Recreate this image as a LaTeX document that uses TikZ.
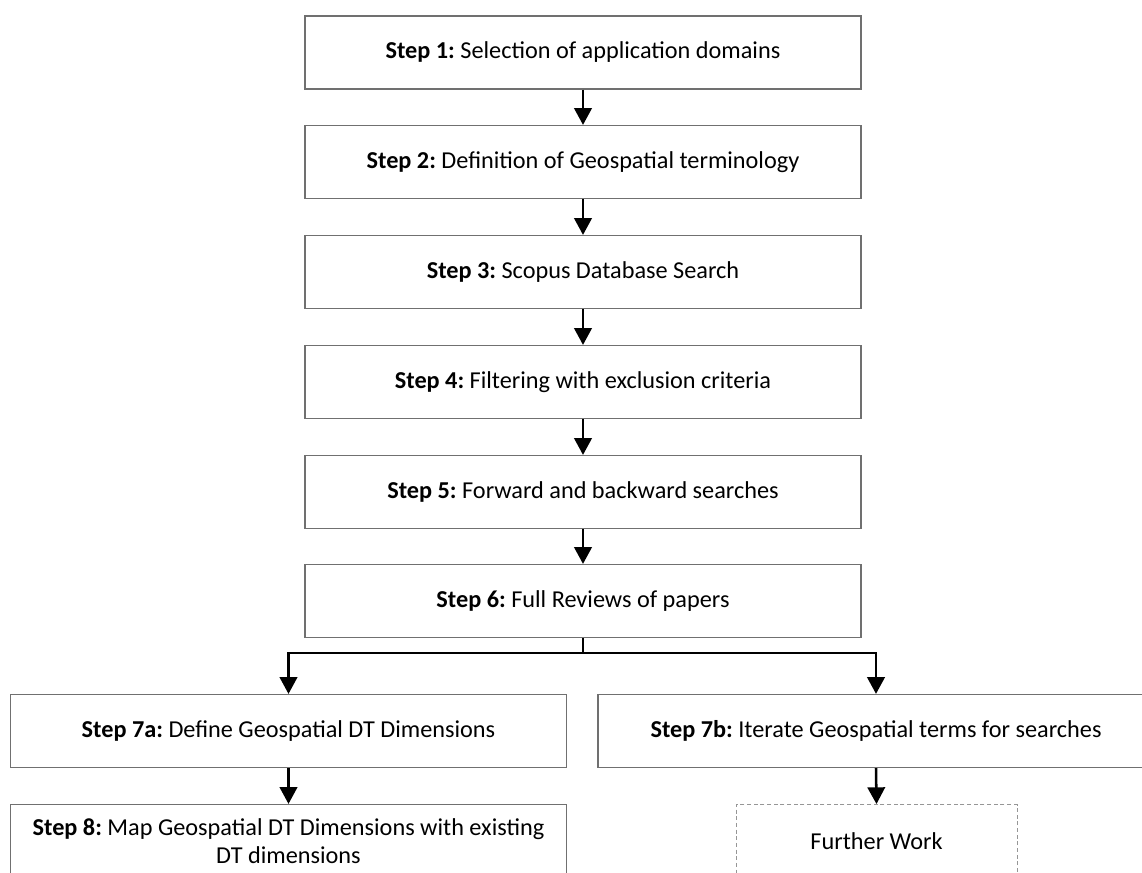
\documentclass[tikz,border=0pt]{standalone}
\usepackage{fontspec}
\setmainfont{Carlito}
\usetikzlibrary{arrows.meta}
\definecolor{boxgray}{RGB}{112,112,112}
\definecolor{dashgray}{RGB}{150,150,150}
\frenchspacing
\begin{document}
\begin{tikzpicture}[x=0.75pt,y=-0.75pt,
  stepbox/.style={draw=boxgray, line width=0.9pt, rectangle, minimum width=417pt, minimum height=54.75pt, inner sep=0pt, align=center, font=\fontsize{18.2}{21}\selectfont},
  arr/.style={line width=1.9pt, -{Triangle[width=13pt,length=12.5pt]}},
  plain/.style={line width=1.9pt}]
\useasboundingbox (0,0) rectangle (1142,872);
\node[stepbox] (s1) at (583,52.5) {\textbf{Step 1:} Selection of application domains};
\node[stepbox] (s2) at (583,162) {\textbf{Step 2:} Definition of Geospatial terminology};
\node[stepbox] (s3) at (583,272) {\textbf{Step 3:} Scopus Database Search};
\node[stepbox] (s4) at (583,382) {\textbf{Step 4:} Filtering with exclusion criteria};
\node[stepbox] (s5) at (583,492) {\textbf{Step 5:} Forward and backward searches};
\node[stepbox] (s6) at (583,601) {\textbf{Step 6:} Full Reviews of papers};
\node[stepbox] (s7a) at (288.5,731) {\textbf{Step 7a:} Define Geospatial DT Dimensions};
\node[stepbox] (s7b) at (876,731) {\textbf{Step 7b:} Iterate Geospatial terms for searches};
\node[stepbox] (s8) at (288.5,841) {\textbf{Step 8:} Map Geospatial DT Dimensions with existing\\DT dimensions};
\node[stepbox, draw=dashgray, dash pattern=on 3pt off 2pt, line width=0.75pt, minimum width=210.75pt] (fw) at (876.5,841) {Further Work};
\coordinate (j) at (583,653);
\draw[arr] (s1.south) -- (s2.north);
\draw[arr] (s2.south) -- (s3.north);
\draw[arr] (s3.south) -- (s4.north);
\draw[arr] (s4.south) -- (s5.north);
\draw[arr] (s5.south) -- (s6.north);
\draw[plain] (s6.south) -- (j);
\draw[arr] (j) -| (s7a.north);
\draw[arr] (j) -| (s7b.north);
\draw[arr] (s7a.south) -- (s8.north);
\draw[arr] (s7b.south) -- (fw.north);
\end{tikzpicture}
\end{document}
